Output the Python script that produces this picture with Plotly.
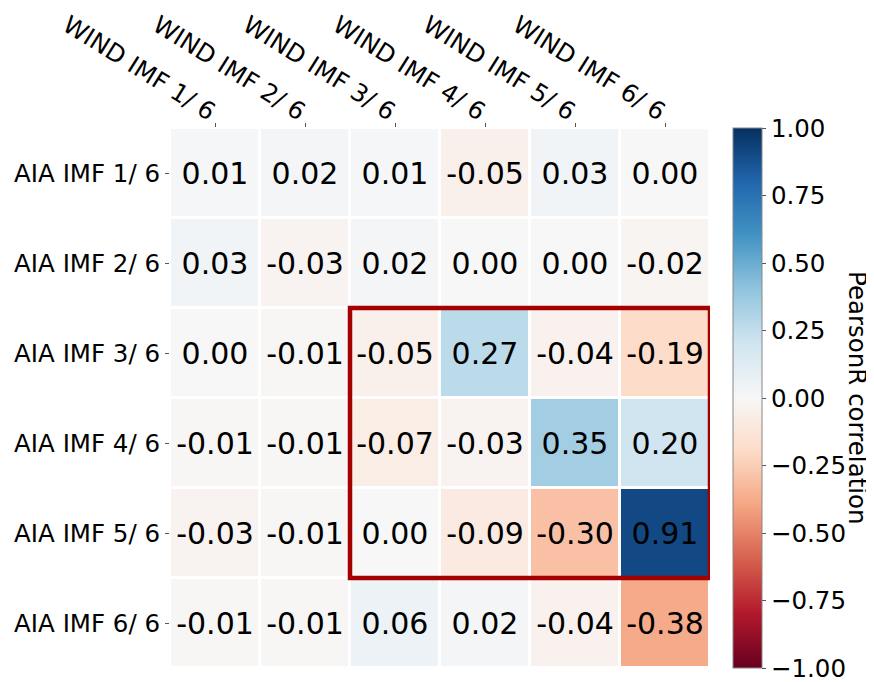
import plotly.graph_objects as go

x_labels = ["WIND IMF 1/ 6", "WIND IMF 2/ 6", "WIND IMF 3/ 6", "WIND IMF 4/ 6", "WIND IMF 5/ 6", "WIND IMF 6/ 6"]
y_labels = ["AIA IMF 1/ 6", "AIA IMF 2/ 6", "AIA IMF 3/ 6", "AIA IMF 4/ 6", "AIA IMF 5/ 6", "AIA IMF 6/ 6"]

row1 = [0.01, 0.02, 0.01, -0.05, 0.03, 0.00]
row2 = [0.03, -0.03, 0.02, 0.00, 0.00, -0.02]
row3 = [0.00, -0.01, -0.05, 0.27, -0.04, -0.19]
row4 = [-0.01, -0.01, -0.07, -0.03, 0.35, 0.20]
row5 = [-0.03, -0.01, 0.00, -0.09, -0.30, 0.91]
row6 = [-0.01, -0.01, 0.06, 0.02, -0.04, -0.38]
z = [row1, row2, row3, row4, row5, row6]

cbar_vals = [1.0, 0.75, 0.5, 0.25, 0.0, -0.25, -0.5, -0.75, -1.0]
cbar_text = ["1.00", "0.75", "0.50", "0.25", "0.00", "\u22120.25", "\u22120.50", "\u22120.75", "\u22121.00"]

rdbu = ['rgb(103,0,31)', 'rgb(178,24,43)', 'rgb(214,96,77)', 'rgb(244,165,130)',
        'rgb(253,219,199)', 'rgb(247,247,247)', 'rgb(209,229,240)', 'rgb(146,197,222)',
        'rgb(67,147,195)', 'rgb(33,102,172)', 'rgb(5,48,97)']

text = [[f"{v:.2f}" for v in row] for row in z]
n = len(x_labels)
FONT = "DejaVu Sans"

fig = go.Figure(go.Heatmap(
    z=z, x=list(range(n)), y=list(range(len(y_labels))),
    zmin=-1, zmax=1, colorscale=rdbu,
    xgap=3, ygap=3,
    text=text, texttemplate="%{text}",
    textfont=dict(size=30, color="black", family=FONT),
    colorbar=dict(
        x=1.0426, xanchor="left", y=0.5, yanchor="middle", len=1.0, lenmode="fraction",
        thickness=29, outlinewidth=1, outlinecolor="#888", xpad=0, ypad=0,
        tickvals=cbar_vals, ticktext=cbar_text, ticks="outside", ticklen=4, tickcolor="#555",
        tickfont=dict(size=24.5, family=FONT, color="black"),
    ),
))

fig.add_shape(type="rect", x0=1.5, x1=5.5, y0=1.5, y1=4.5,
              line=dict(color="#a50000", width=4.5), fillcolor="rgba(0,0,0,0)")

fig.add_annotation(text="PearsonR correlation", xref="paper", yref="paper",
                   x=688 / 540, y=0.5, showarrow=False, textangle=90,
                   xanchor="center", yanchor="middle",
                   font=dict(size=24.5, family=FONT, color="black"))

fig.update_xaxes(side="top", tickvals=list(range(n)), ticktext=x_labels, tickangle=32,
                 ticks="outside", ticklen=4, tickcolor="#555", showgrid=False, zeroline=False,
                 automargin=False, range=[-0.5, 5.5], ticklabelstandoff=-10,
                 tickfont=dict(size=24.5, family=FONT, color="black"))
fig.update_yaxes(autorange=False, range=[5.5, -0.5], tickvals=list(range(len(y_labels))), ticktext=y_labels,
                 ticks="outside", ticklen=4, tickcolor="#555", showgrid=False, zeroline=False,
                 automargin=False,
                 tickfont=dict(size=24.5, family=FONT, color="black"))

fig.update_layout(width=874, height=682, margin=dict(l=162, r=172, t=120, b=22, autoexpand=False),
                  plot_bgcolor="white", paper_bgcolor="white",
                  font=dict(family=FONT, color="black"))

fig.write_html("out.html")
